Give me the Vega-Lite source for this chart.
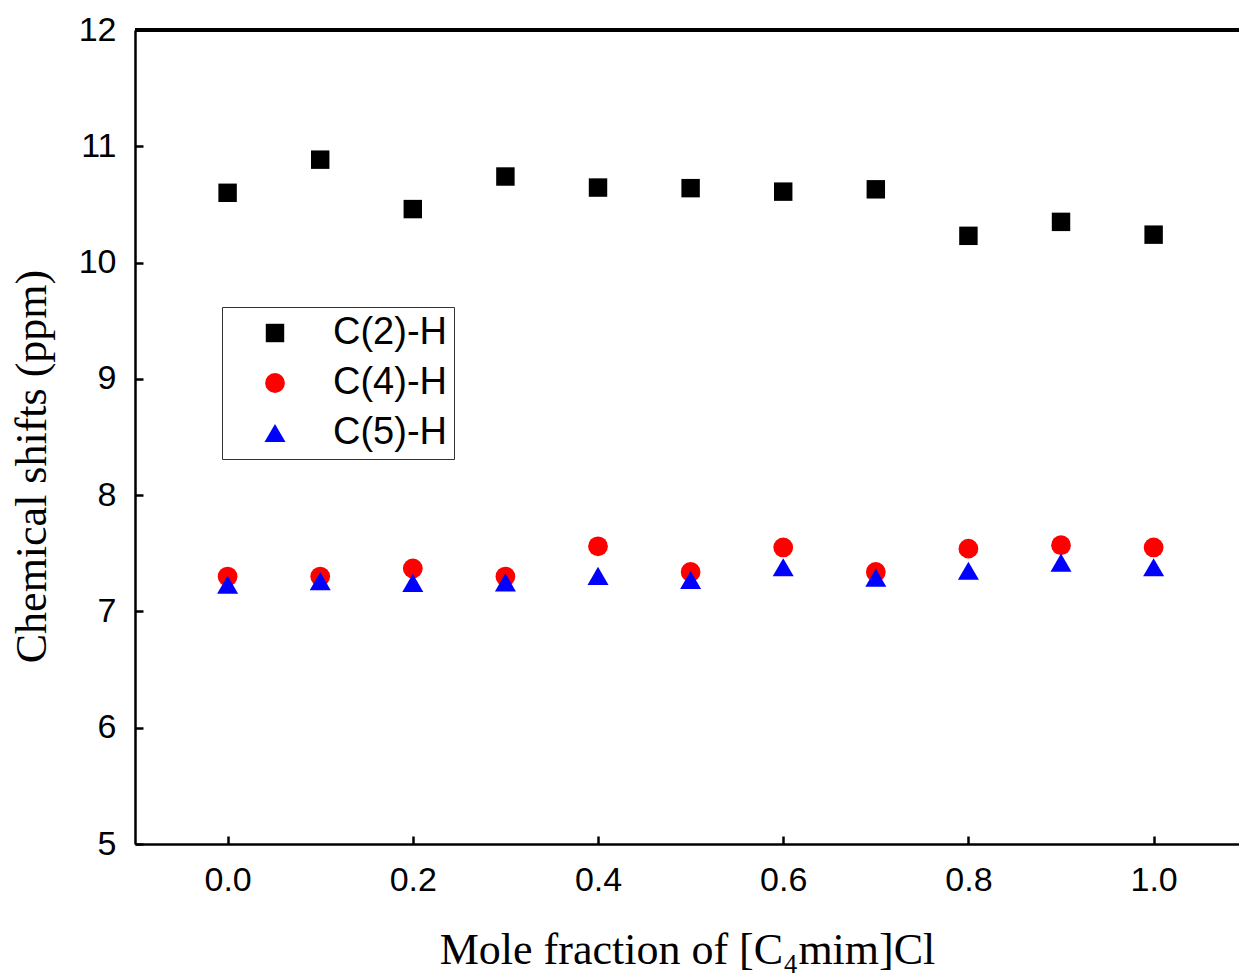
{
  "$schema": "https://vega.github.io/schema/vega-lite/v6.json",
  "autosize": {"type": "none"},
  "width": 1104,
  "height": 814,
  "padding": {"left": 135, "top": 30, "right": 0, "bottom": 132},
  "background": "white",
  "config": {
    "view": {"stroke": null},
    "axis": {
      "grid": false,
      "domainColor": "black",
      "domainWidth": 2.5,
      "tickColor": "black",
      "tickWidth": 2.5,
      "tickSize": -8,
      "labelFont": "Liberation Sans",
      "labelFontSize": 34,
      "labelColor": "black",
      "titleFont": "Liberation Serif",
      "titleFontSize": 44,
      "titleFontWeight": "normal",
      "titleColor": "black"
    }
  },
  "data": {
    "values": [
      {"x": 0.0, "y": 10.60, "s": "C(2)-H"},
      {"x": 0.1, "y": 10.885, "s": "C(2)-H"},
      {"x": 0.2, "y": 10.46, "s": "C(2)-H"},
      {"x": 0.3, "y": 10.74, "s": "C(2)-H"},
      {"x": 0.4, "y": 10.645, "s": "C(2)-H"},
      {"x": 0.5, "y": 10.64, "s": "C(2)-H"},
      {"x": 0.6, "y": 10.61, "s": "C(2)-H"},
      {"x": 0.7, "y": 10.63, "s": "C(2)-H"},
      {"x": 0.8, "y": 10.23, "s": "C(2)-H"},
      {"x": 0.9, "y": 10.35, "s": "C(2)-H"},
      {"x": 1.0, "y": 10.24, "s": "C(2)-H"},
      {"x": 0.0, "y": 7.30, "s": "C(4)-H"},
      {"x": 0.1, "y": 7.30, "s": "C(4)-H"},
      {"x": 0.2, "y": 7.37, "s": "C(4)-H"},
      {"x": 0.3, "y": 7.30, "s": "C(4)-H"},
      {"x": 0.4, "y": 7.56, "s": "C(4)-H"},
      {"x": 0.5, "y": 7.34, "s": "C(4)-H"},
      {"x": 0.6, "y": 7.55, "s": "C(4)-H"},
      {"x": 0.7, "y": 7.34, "s": "C(4)-H"},
      {"x": 0.8, "y": 7.54, "s": "C(4)-H"},
      {"x": 0.9, "y": 7.57, "s": "C(4)-H"},
      {"x": 1.0, "y": 7.55, "s": "C(4)-H"},
      {"x": 0.0, "y": 7.23, "s": "C(5)-H"},
      {"x": 0.1, "y": 7.26, "s": "C(5)-H"},
      {"x": 0.2, "y": 7.245, "s": "C(5)-H"},
      {"x": 0.3, "y": 7.25, "s": "C(5)-H"},
      {"x": 0.4, "y": 7.305, "s": "C(5)-H"},
      {"x": 0.5, "y": 7.27, "s": "C(5)-H"},
      {"x": 0.6, "y": 7.38, "s": "C(5)-H"},
      {"x": 0.7, "y": 7.29, "s": "C(5)-H"},
      {"x": 0.8, "y": 7.35, "s": "C(5)-H"},
      {"x": 0.9, "y": 7.42, "s": "C(5)-H"},
      {"x": 1.0, "y": 7.38, "s": "C(5)-H"}
    ]
  },
  "layer": [
    {
      "mark": {"type": "rule", "stroke": "black", "strokeWidth": 2.5},
      "encoding": {"y": {"datum": 12, "type": "quantitative", "scale": {"domain": [5, 12], "nice": false, "zero": false}}}
    },
    {
      "mark": {"type": "point", "filled": true, "opacity": 1},
      "encoding": {
        "x": {
          "field": "x", "type": "quantitative",
          "scale": {"domain": [-0.1, 1.0922], "nice": false, "zero": false},
          "axis": {"values": [0, 0.2, 0.4, 0.6, 0.8, 1.0], "format": ".1f", "labelPadding": 27, "title": "Mole fraction of [C₄mim]Cl", "titlePadding": 31}
        },
        "y": {
          "field": "y", "type": "quantitative",
          "scale": {"domain": [5, 12], "nice": false, "zero": false},
          "axis": {"values": [5, 6, 7, 8, 9, 10, 11, 12], "format": "d", "labelPadding": 27, "title": "Chemical shifts (ppm)", "titlePadding": 24, "titleY": 436}
        },
        "color": {
          "field": "s", "type": "nominal",
          "scale": {"domain": ["C(2)-H", "C(4)-H", "C(5)-H"], "range": ["black", "red", "blue"]},
          "legend": {
            "title": null,
            "orient": "none",
            "legendX": 87,
            "legendY": 277,
            "strokeColor": "#333333",
            "fillColor": "white",
            "padding": 7,
            "symbolSize": 450,
            "symbolOffset": 27,
            "labelFont": "Liberation Sans",
            "labelFontSize": 38,
            "labelColor": "black",
            "labelOffset": 39,
            "rowPadding": 12,
            "symbolStrokeWidth": 0,
            "encode": {"symbols": {"update": {"size": {"value": 480}}}}
          }
        },
        "shape": {
          "field": "s", "type": "nominal",
          "scale": {"domain": ["C(2)-H", "C(4)-H", "C(5)-H"], "range": ["square", "circle", "triangle-up"]},
          "legend": {
            "title": null,
            "orient": "none",
            "legendX": 87,
            "legendY": 277
          }
        },
        "size": {
          "field": "s", "type": "nominal",
          "scale": {"domain": ["C(2)-H", "C(4)-H", "C(5)-H"], "range": [340, 441, 625]},
          "legend": null
        }
      }
    }
  ]
}
